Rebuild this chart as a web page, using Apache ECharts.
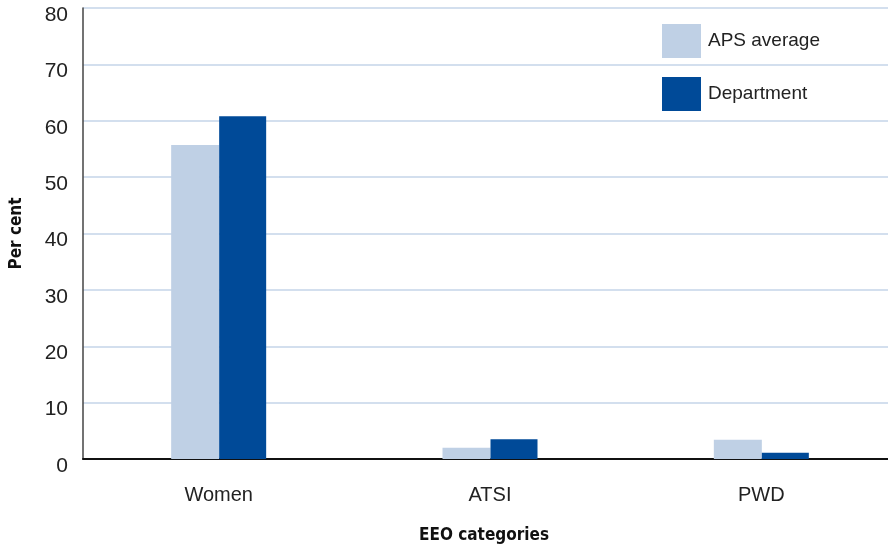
<!DOCTYPE html>
<html>
<head>
<meta charset="utf-8">
<script src="https://cdn.jsdelivr.net/npm/echarts@6/dist/echarts.min.js"></script>
<style>
  html, body { margin: 0; padding: 0; background: #fff; }
  #chart { width: 888px; height: 547px; }
</style>
</head>
<body>
<div id="chart"></div>
<script>
// EEO categories: APS average vs Department (per cent)
const categories = ['Women', 'ATSI', 'PWD'];
const apsAverage = [55.7, 2.0, 3.4];
const department = [60.8, 3.5, 1.1];
const yTicks = { min: 0, max: 80, interval: 10 };

const titleFont = "'DejaVu Sans Condensed', 'Liberation Sans', sans-serif";

const chart = echarts.init(document.getElementById('chart'));

chart.setOption({
  backgroundColor: '#fff',
  animation: false,
  textStyle: { fontFamily: 'Liberation Sans' },
  // plot runs a little past the right edge in the original, so the last slot is wider
  grid: { left: 83, right: -9, top: 8, bottom: 88, outerBoundsMode: 'none' },
  legend: {
    orient: 'vertical',
    left: 657,
    top: 19,
    itemWidth: 39,
    itemHeight: 34,
    itemGap: 19,
    icon: 'rect',
    textStyle: { fontSize: 19, color: '#222', padding: [0, 0, 0, 2] },
    data: ['APS average', 'Department'],
  },
  xAxis: {
    type: 'category',
    data: categories,
    name: 'EEO categories',
    nameLocation: 'middle',
    nameGap: 68,
    nameTextStyle: { fontFamily: titleFont, fontWeight: 'bold', fontSize: 17, color: '#111', padding: [0, 12, 0, 0] },
    axisLine: { lineStyle: { color: '#111', width: 2 } },
    axisTick: { show: false },
    axisLabel: { fontSize: 20, color: '#222', margin: 26 },
  },
  yAxis: {
    type: 'value',
    min: yTicks.min,
    max: yTicks.max,
    interval: yTicks.interval,
    name: 'Per cent',
    nameLocation: 'middle',
    nameGap: 58,
    nameTextStyle: { fontFamily: titleFont, fontWeight: 'bold', fontSize: 17, color: '#111' },
    axisLine: { show: true, lineStyle: { color: '#444', width: 1.5 } },
    axisTick: { show: false },
    axisLabel: { fontSize: 21, color: '#222', margin: 15, verticalAlign: 'top', lineHeight: 14 },
    splitLine: { lineStyle: { color: '#c5d5e8', width: 1.5 } },
  },
  series: [
    {
      name: 'APS average',
      type: 'bar',
      data: apsAverage,
      barWidth: 48,
      barGap: '0%',
      itemStyle: { color: '#bfd0e5' },
    },
    {
      name: 'Department',
      type: 'bar',
      data: department,
      barWidth: 47,
      itemStyle: { color: '#004a98' },
    },
  ],
});
</script>
</body>
</html>
